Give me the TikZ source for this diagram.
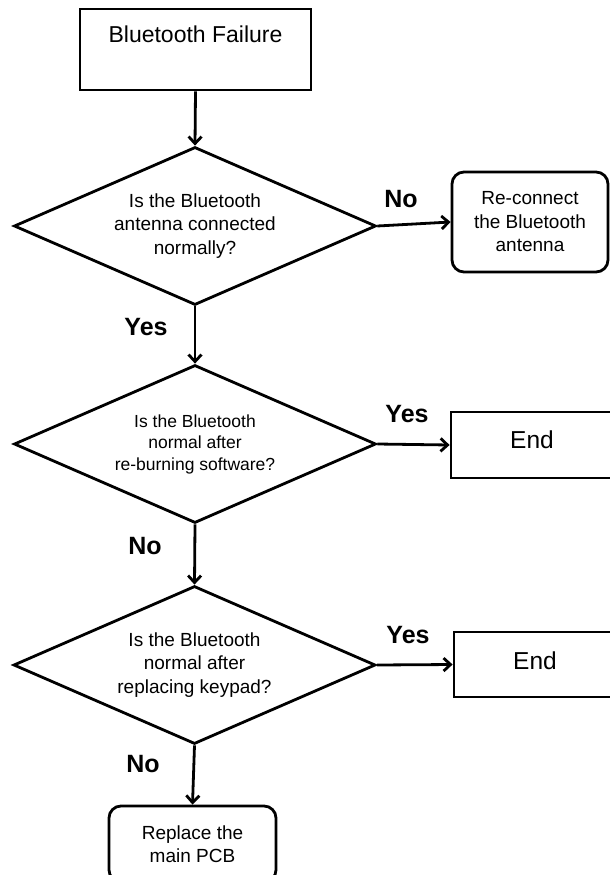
\documentclass[tikz,border=0pt]{standalone}
\usepackage{fontspec}
\setmainfont{Liberation Sans}
\usetikzlibrary{arrows.meta,shapes.geometric}

\begin{document}
\begin{tikzpicture}[x=1pt,y=-1pt,
  box/.style={draw,line width=2.8pt,inner sep=0pt,align=center,
    font=\fontsize{19}{23.5}\selectfont},
  decision/.style={diamond,aspect=2.3,draw,line width=2.8pt,inner sep=0pt,
    align=center,minimum width=362pt,minimum height=158pt,
    font=\fontsize{19}{23.5}\selectfont},
  flow/.style={line width=2.8pt,-{Straight Barb[length=7pt,width=13pt]}},
  lbl/.style={font=\bfseries\fontsize{25}{30}\selectfont}]
  \useasboundingbox (0,0) rectangle (610,875);
  \clip (0,0) rectangle (610,875);
  % start
  \node[box,minimum width=231pt,text height=34pt,text depth=47pt,
    font=\fontsize{23}{28}\selectfont] (start) at (195.5,49.5) {Bluetooth Failure};
  % first check: antenna
  \node[decision] (q1) at (195,226) {Is the Bluetooth\\antenna connected\\normally?};
  \node[box,rounded corners=12pt,minimum width=156pt,minimum height=100pt]
    (fix) at (530,222) {Re-connect\\the Bluetooth\\antenna};
  % second check: software
  \node[decision,font=\fontsize{17.5}{21.5}\selectfont] (q2) at (195,444)
    {Is the Bluetooth\\normal after\\re-burning software?};
  \node[box,minimum width=162pt,text height=36pt,text depth=30pt,
    font=\fontsize{24.5}{29}\selectfont] (end1) at (532,445) {End};
  % third check: keypad
  \node[decision] (q3) at (194.5,665) {Is the Bluetooth\\normal after\\replacing keypad?};
  \node[box,minimum width=162pt,text height=37pt,text depth=28pt,
    font=\fontsize{24.5}{29}\selectfont] (end2) at (535,664.5) {End};
  \node[box,rounded corners=12pt,minimum width=167pt,minimum height=76pt]
    (pcb) at (192.5,844) {Replace the\\main PCB};
  % connectors
  \draw[flow] (start.south) -- (q1.north);
  \draw[flow] (q1.east) -- (fix.west);
  \draw[flow] (q1.south) -- (q2.north);
  \draw[flow] (q2.east) -- (end1.west);
  \draw[flow] (q2.south) -- (q3.north);
  \draw[flow] (q3.east) -- (end2.west);
  \draw[flow] (q3.south) -- (pcb.north);
  % answers
  \node[lbl] (no1) at (401,199) {No};
  \node[lbl] (yes1) at (146,327) {Yes};
  \node[lbl] (yes2) at (407,414) {Yes};
  \node[lbl] (no2) at (145,546) {No};
  \node[lbl] (yes3) at (408,635) {Yes};
  \node[lbl] (no3) at (143,764) {No};
\end{tikzpicture}
\end{document}
